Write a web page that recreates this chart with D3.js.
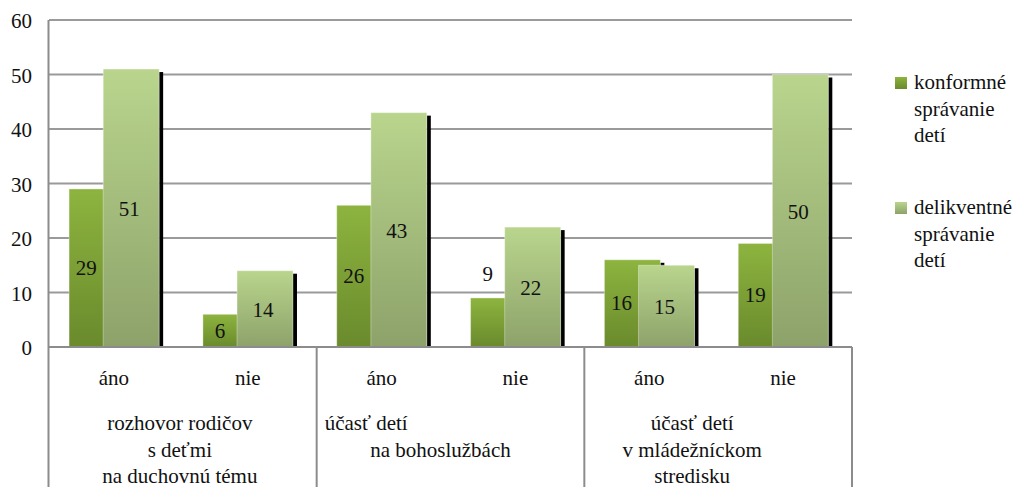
<!DOCTYPE html>
<html>
<head>
<meta charset="utf-8">
<script src="https://cdn.jsdelivr.net/npm/d3@7"></script>
<style>
  body { margin: 0; background: #fff; }
  svg { display: block; }
</style>
</head>
<body>
<svg id="s" width="1021" height="487"></svg>
<script>
// categories (inner level) and groups (outer level)
const categories = ['áno', 'nie', 'áno', 'nie', 'áno', 'nie'];
const groups = [
  ['rozhovor rodičov', 's deťmi', 'na duchovnú tému'],
  ['účasť detí', 'na bohoslužbách'],
  ['účasť detí', 'v mládežníckom', 'stredisku']
];
const seriesNames = [
  ['konformné', 'správanie', 'detí'],
  ['delikventné', 'správanie', 'detí']
];
const conformValues = [29, 6, 26, 9, 16, 19];
const delinquentValues = [51, 14, 43, 22, 15, 50];
const yTicks = [0, 10, 20, 30, 40, 50, 60];

const W = 1021, H = 487;
const margin = { left: 49, right: 852, top: 20, bottom: 347 };

const svg = d3.select('#s');

// every text uses the same serif face
function styleText (sel) {
  return sel.style('font-family', "'Liberation Serif', 'Times New Roman', Tinos, serif", 'important')
    .style('font-size', '21px')
    .style('fill', '#111');
}

// gradients for the two series
const defs = svg.append('defs');
function gradient (id, top, bottom) {
  let g = defs.append('linearGradient').attr('id', id)
    .attr('x1', 0).attr('y1', 0).attr('x2', 0).attr('y2', 1);
  g.append('stop').attr('offset', '0%').attr('stop-color', top);
  g.append('stop').attr('offset', '100%').attr('stop-color', bottom);
}
gradient('gDark', '#8db43f', '#6a8a2c');
gradient('gLight', '#b9d58d', '#8da26a');

const x = d3.scaleBand()
  .domain(d3.range(categories.length))
  .range([margin.left, margin.right])
  .paddingInner(0).paddingOuter(0);
const y = d3.scaleLinear().domain([0, 60]).range([margin.bottom, margin.top]);

const bw = x.bandwidth();
const barW = bw * 0.418;
const darkOff = bw * 0.15;
const lightOff = darkOff + bw * 0.255;
const shadowW = 4;

// gridlines
svg.append('g').selectAll('line')
  .data(yTicks.filter(d => d > 0))
  .join('line')
  .attr('x1', margin.left).attr('x2', margin.right)
  .attr('y1', d => y(d)).attr('y2', d => y(d))
  .attr('stroke', '#9a9a9a').attr('stroke-width', 2);

// y labels
svg.append('g').selectAll('text')
  .data(yTicks)
  .join('text')
  .call(styleText)
  .attr('x', 32)
  .attr('y', d => y(d) + 8)
  .attr('text-anchor', 'end')
  .text(d => d);

// bars
const series = [
  { values: conformValues, off: darkOff, fill: 'url(#gDark)' },
  { values: delinquentValues, off: lightOff, fill: 'url(#gLight)' }
];
series.forEach(s => {
  let g = svg.append('g');
  g.selectAll('rect.shadow')
    .data(s.values)
    .join('rect')
    .attr('class', 'shadow')
    .attr('x', (d, i) => x(i) + s.off + barW)
    .attr('y', d => y(d) + 3)
    .attr('width', shadowW)
    .attr('height', d => y(0) - y(d) - 3)
    .attr('fill', '#000');
  g.selectAll('rect.bar')
    .data(s.values)
    .join('rect')
    .attr('class', 'bar')
    .attr('x', (d, i) => x(i) + s.off)
    .attr('y', d => y(d))
    .attr('width', barW)
    .attr('height', d => y(0) - y(d))
    .attr('fill', s.fill)
    .attr('stroke', 'rgba(255,255,255,0.35)')
    .attr('stroke-width', 1);
});

// value labels (the "9" sits above its short bar)
svg.append('g').selectAll('text')
  .data(conformValues)
  .join('text')
  .call(styleText)
  .attr('text-anchor', 'middle')
  .attr('x', (d, i) => x(i) + (darkOff + lightOff) / 2)
  .attr('y', (d, i) => i === 3 ? y(d) - 17 : (y(d) + y(0)) / 2 + 7)
  .text(d => d);
svg.append('g').selectAll('text')
  .data(delinquentValues)
  .join('text')
  .call(styleText)
  .attr('text-anchor', 'middle')
  .attr('x', (d, i) => x(i) + lightOff + barW / 2 - 2)
  .attr('y', d => (y(d) + y(0)) / 2 + 8)
  .text(d => d);

// axes frame
const axisColor = '#8c8c8c';
svg.append('line')
  .attr('x1', margin.left - 0.5).attr('x2', margin.left - 0.5)
  .attr('y1', margin.top).attr('y2', H)
  .attr('stroke', axisColor).attr('stroke-width', 2);
svg.append('line')
  .attr('x1', margin.left - 1).attr('x2', margin.right)
  .attr('y1', y(0)).attr('y2', y(0))
  .attr('stroke', axisColor).attr('stroke-width', 2);
svg.append('g').selectAll('line')
  .data(d3.range(1, groups.length + 1))
  .join('line')
  .attr('x1', d => x(d * 2) === undefined ? margin.right : x(d * 2))
  .attr('x2', d => x(d * 2) === undefined ? margin.right : x(d * 2))
  .attr('y1', y(0)).attr('y2', H)
  .attr('stroke', axisColor).attr('stroke-width', 2);

// category labels
svg.append('g').selectAll('text')
  .data(categories)
  .join('text')
  .call(styleText)
  .attr('text-anchor', 'middle')
  .attr('x', (d, i) => x(i) + bw / 2 - 2)
  .attr('y', 385)
  .text(d => d);

// group labels (the second group's first line sits at the left edge,
// as in the original)
const lineH = 26.5;
groups.forEach((lines, gi) => {
  let cx = x(gi * 2) + bw;
  let t = svg.append('text').call(styleText).attr('text-anchor', 'middle');
  lines.forEach((line, li) => {
    let ts = t.append('tspan').attr('y', 430 + li * lineH).text(line);
    if (gi === 0) ts.attr('x', cx - 3);
    else if (gi === 1) {
      if (li === 0) ts.attr('x', x(gi * 2) + 8).attr('text-anchor', 'start');
      else ts.attr('x', cx - 10);
    } else ts.attr('x', cx - 26);
  });
});

// legend
const legend = svg.append('g');
seriesNames.forEach((lines, i) => {
  let top = 77 + i * 125;
  legend.append('rect')
    .attr('x', 895).attr('y', top)
    .attr('width', 12).attr('height', 12)
    .attr('fill', series[i].fill);
  let t = legend.append('text').call(styleText);
  lines.forEach((line, li) => {
    t.append('tspan').attr('x', 914).attr('y', top + 12 + li * 26.5).text(line);
  });
});
</script>
</body>
</html>
